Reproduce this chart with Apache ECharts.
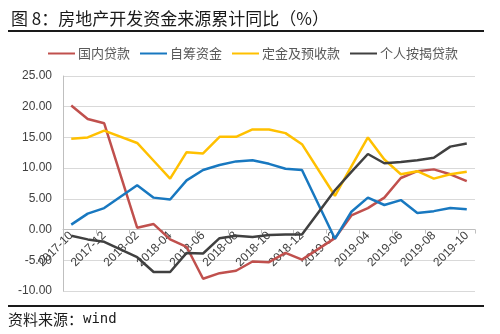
<!DOCTYPE html>
<html>
<head>
<meta charset="utf-8">
<script src="https://cdn.jsdelivr.net/npm/echarts@6/dist/echarts.min.js"></script>
<style>html,body{margin:0;padding:0;background:#fff;}#c{width:500px;height:334px;}</style>
</head>
<body>
<div id="c"></div>
<script>
var categories = ['2017-10','2017-11','2017-12','2018-01','2018-02','2018-03','2018-04','2018-05','2018-06','2018-07','2018-08','2018-09','2018-10','2018-11','2018-12','2019-01','2019-02','2019-03','2019-04','2019-05','2019-06','2019-07','2019-08','2019-09','2019-10'];
var domesticLoans = [20.2, 18.0, 17.3, null, 0.3, 0.9, -1.6, -2.8, -8.0, -7.1, -6.7, -5.2, -5.3, -3.8, -4.9, null, -1.4, 2.3, 3.5, 5.2, 8.4, 9.5, 9.8, 9.0, 7.9];
var selfRaised = [0.8, 2.6, 3.5, null, 7.2, 5.2, 4.9, 8.0, 9.7, 10.5, 11.1, 11.3, 10.7, 9.9, 9.7, null, -1.5, 2.9, 5.2, 4.0, 4.8, 2.7, 3.0, 3.5, 3.3];
var deposits = [14.8, 15.0, 16.1, null, 14.1, 11.2, 8.3, 12.6, 12.4, 15.1, 15.1, 16.3, 16.3, 15.7, 13.9, null, 5.5, 10.3, 15.0, 11.4, 9.0, 9.5, 8.3, 9.0, 9.4];
var mortgages = [-1.0, -1.6, -2.0, null, -4.5, -6.9, -6.9, -3.8, -3.9, -1.4, -1.0, -1.2, -0.9, -0.8, -0.8, null, 6.4, 9.4, 12.3, 10.8, 11.0, 11.3, 11.7, 13.5, 14.0];
var seriesNames = ['国内贷款', '自筹资金', '定金及预收款', '个人按揭贷款'];
var colors = ['#C0504D', '#1878C0', '#FFC000', '#404040'];
var yMin = -10, yMax = 25, yStep = 5;

var gridTop = 76, gridBottom = 43, chartH = 334;
var plotH = chartH - gridTop - gridBottom;
// distance from bottom of plot to the zero line, via the axis range
var zeroOffset = plotH * (0 - yMin) / (yMax - yMin);

var chart = echarts.init(document.getElementById('c'), null, {renderer: 'canvas'});
var cjk = '"Noto Sans CJK SC", "Noto Sans", sans-serif';
var latin = '"Liberation Sans", Arial, sans-serif';
var dataSets = [domesticLoans, selfRaised, deposits, mortgages];
chart.setOption({
  animation: false,
  backgroundColor: '#fff',
  color: colors,
  title: {
    text: '图 8：房地产开发资金来源累计同比（%）',
    left: 6, top: 5,
    textStyle: {fontFamily: cjk, fontSize: 17, fontWeight: 'normal', color: '#1a1a1a'}
  },
  legend: {
    data: seriesNames,
    top: 42, left: 43,
    icon: 'rect', itemWidth: 27, itemHeight: 2, itemGap: 10,
    textStyle: {fontFamily: cjk, fontSize: 13, color: '#595959', padding: [0, 0, 0, -2]}
  },
  grid: {left: 63, right: 25, top: gridTop, bottom: gridBottom, containLabel: false},
  xAxis: {
    type: 'category',
    data: categories,
    boundaryGap: true,
    offset: -zeroOffset,
    z: 1,
    axisLine: {onZero: false, lineStyle: {color: '#bfbfbf', width: 1}},
    axisTick: {show: true, interval: 1, length: 4, lineStyle: {color: '#bfbfbf'}},
    axisLabel: {interval: 1, rotate: 45, margin: 4, fontFamily: latin, fontSize: 12, color: '#404040'},
    splitLine: {show: false}
  },
  yAxis: {
    type: 'value',
    min: yMin, max: yMax, interval: yStep,
    axisLine: {show: true, lineStyle: {color: '#bfbfbf'}},
    axisTick: {show: false},
    axisLabel: {margin: 11, fontFamily: latin, fontSize: 12, color: '#404040', formatter: function (v) { return v.toFixed(2); }},
    splitLine: {show: true, lineStyle: {color: '#d9d9d9', width: 1}}
  },
  series: seriesNames.map(function (n, i) {
    return {
      name: n, type: 'line', data: dataSets[i],
      symbol: 'none', connectNulls: true, z: 3 + i,
      lineStyle: {width: 2.5, color: colors[i]},
      itemStyle: {color: colors[i]}
    };
  }),
  graphic: [
    {type: 'rect', shape: {x: 8, y: 30, width: 476, height: 2}, style: {fill: '#1a1a1a'}},
    {type: 'rect', shape: {x: 8, y: 305, width: 476, height: 2}, style: {fill: '#1a1a1a'}},
    {type: 'text', left: 8, top: 312, style: {
      text: '{a|资料来源：}{b|wind}',
      rich: {
        a: {fontFamily: cjk, fontSize: 15, fill: '#1a1a1a'},
        b: {fontFamily: '"DejaVu Sans Mono", monospace', fontSize: 14, fill: '#1a1a1a'}
      }
    }}
  ]
});
</script>
</body>
</html>
